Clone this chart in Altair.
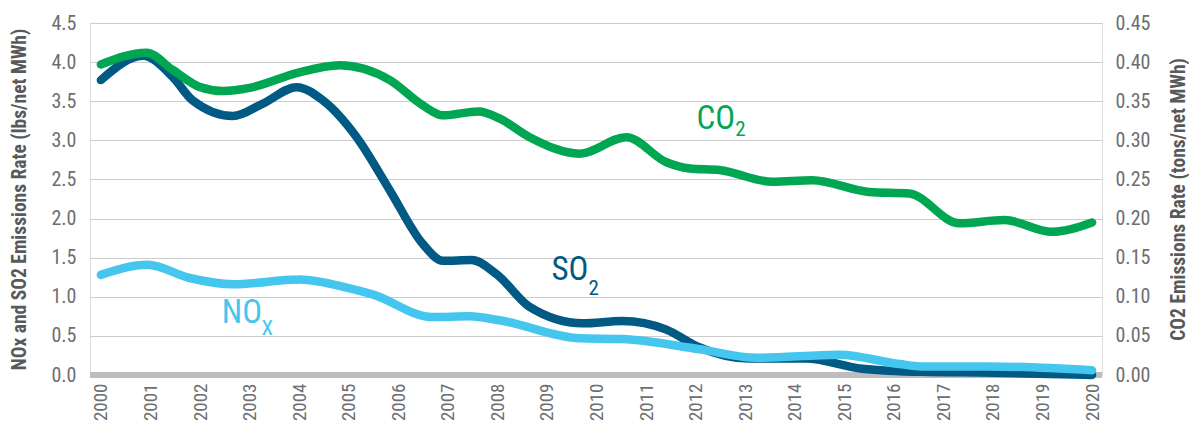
import altair as alt
import pandas as pd

# ---- data ----
co2_year = [2000.0, 2000.92, 2001.45, 2002.0, 2002.46, 2003.0, 2003.95, 2004.82,
            2005.83, 2006.49, 2006.9, 2007.62, 2008.04, 2008.65, 2009.66, 2010.6,
            2011.41, 2011.88, 2012.48, 2013.55, 2014.35, 2015.5, 2016.31, 2017.32,
            2018.23, 2019.19, 2020.0]
co2_val = [0.397, 0.412, 0.390, 0.368, 0.363, 0.367, 0.386, 0.396,
           0.377, 0.345, 0.332, 0.337, 0.328, 0.304, 0.283, 0.304,
           0.272, 0.264, 0.262, 0.247, 0.249, 0.234, 0.232, 0.194,
           0.198, 0.183, 0.195]

so2_year = [2000.0, 2000.85, 2001.45, 2001.85, 2002.66, 2003.27, 2003.95, 2004.48,
            2005.16, 2005.83, 2006.49, 2006.9, 2007.48, 2008.0, 2008.65, 2009.72,
            2010.52, 2011.41, 2012.02, 2013.08, 2014.23, 2015.36, 2016.57, 2018.0,
            2020.0]
so2_val = [3.77, 4.08, 3.81, 3.51, 3.31, 3.47, 3.68, 3.51,
           3.04, 2.36, 1.68, 1.46, 1.47, 1.28, 0.87, 0.66,
           0.69, 0.58, 0.37, 0.21, 0.21, 0.08, 0.04, 0.03,
           0.0]

nox_year = [2000.0, 2000.94, 2001.79, 2002.66, 2004.01, 2005.0, 2005.48, 2006.69,
            2007.44, 2008.04, 2009.66, 2010.52, 2012.08, 2013.23, 2014.9, 2016.11,
            2016.57, 2017.92, 2020.0]
nox_val = [1.28, 1.41, 1.24, 1.16, 1.22, 1.11, 1.03, 0.74,
           0.75, 0.70, 0.47, 0.46, 0.33, 0.22, 0.26, 0.14,
           0.11, 0.11, 0.06]

year_ticks = list(range(2000, 2021))
left_ticks = [0.0, 0.5, 1.0, 1.5, 2.0, 2.5, 3.0, 3.5, 4.0, 4.5]
right_ticks = [0.0, 0.05, 0.10, 0.15, 0.20, 0.25, 0.30, 0.35, 0.40, 0.45]

label_main = ["CO", "SO", "NO"]
label_sub = ["2", "2", "X"]
label_main_x = [2012.02, 2009.09, 2002.44]
label_main_y = [3.15, 1.21, 0.66]
label_sub_x = [2012.80, 2009.84, 2003.24]
label_sub_y = [3.06, 1.02, 0.51]
label_color = ["#00A651", "#005A84", "#45C6EE"]

GREEN = "#00A651"
DARK = "#005A84"
LIGHT = "#45C6EE"
FONT = "Roboto Condensed, Liberation Sans Narrow, DejaVu Sans Condensed, Roboto, sans-serif"

co2_df = pd.DataFrame({"year": co2_year, "val": co2_val})
so2_df = pd.DataFrame({"year": so2_year, "val": so2_val})
nox_df = pd.DataFrame({"year": nox_year, "val": nox_val})
lab_df = pd.DataFrame({"txt": label_main, "x": label_main_x, "y": label_main_y, "c": label_color})
sub_df = pd.DataFrame({"txt": label_sub, "x": label_sub_x, "y": label_sub_y, "c": label_color})

xscale = alt.Scale(domain=[1999.78, 2020.2], nice=False, zero=False)
xaxis = alt.Axis(values=year_ticks, format="d", labelAngle=270, grid=False, ticks=False,
                 domain=False, labelPadding=8, title=None, labelFontSize=19,
                 labelColor="#6d6e71", labelFont=FONT)
lscale = alt.Scale(domain=[0, 4.5], nice=False)
laxis = alt.Axis(values=left_ticks, format=".1f", grid=True, gridColor="#cccccc",
                 gridWidth=1.2, ticks=False, domain=False, labelPadding=14,
                 labelFontSize=20, labelColor="#6d6e71", labelFont=FONT,
                 title="NOx and SO2 Emissions Rate (lbs/net MWh)",
                 titleFontSize=19.5, titleFontWeight="bold", titleColor="#58595b",
                 titleFont=FONT, titleAngle=270, titleX=-71, titleY=176,
                 titleAlign="center", titleBaseline="middle")
rscale = alt.Scale(domain=[0, 0.45], nice=False)
raxis = alt.Axis(values=right_ticks, format=".2f", grid=False, ticks=False, domain=False,
                 orient="right", labelPadding=13, labelFontSize=20, labelColor="#6d6e71",
                 labelFont=FONT, title="CO2 Emissions Rate (tons/net MWh)",
                 titleFontSize=19.5, titleFontWeight="bold", titleColor="#58595b",
                 titleFont=FONT, titleAngle=270, titleX=76, titleY=176,
                 titleAlign="center", titleBaseline="middle")

base_rule = alt.Chart(pd.DataFrame({"v": [0.0]})).mark_rule(
    color="#bcbec0", strokeWidth=6
).encode(
    y=alt.Y("v:Q", scale=lscale, axis=laxis),
    x=alt.value(0), x2=alt.value(1012),
)

def line(df, color, scale, axis):
    return alt.Chart(df).mark_line(
        interpolate="monotone", strokeWidth=8.5, color=color,
        strokeCap="round", strokeJoin="round"
    ).encode(
        x=alt.X("year:Q", scale=xscale, axis=xaxis),
        y=alt.Y("val:Q", scale=scale, axis=axis),
    )

so2_line = line(so2_df, DARK, lscale, laxis)
nox_line = line(nox_df, LIGHT, lscale, laxis)

main_txt = alt.Chart(lab_df).mark_text(
    align="left", baseline="alphabetic", fontSize=33, font=FONT
).encode(
    x=alt.X("x:Q", scale=xscale, axis=xaxis),
    y=alt.Y("y:Q", scale=lscale, axis=laxis),
    text="txt:N",
    color=alt.Color("c:N", scale=None),
)
sub_txt = alt.Chart(sub_df).mark_text(
    align="left", baseline="alphabetic", fontSize=21, font=FONT
).encode(
    x=alt.X("x:Q", scale=xscale, axis=xaxis),
    y=alt.Y("y:Q", scale=lscale, axis=laxis),
    text="txt:N",
    color=alt.Color("c:N", scale=None),
)

left = alt.layer(base_rule, so2_line, nox_line, main_txt, sub_txt)
right = line(co2_df, GREEN, rscale, raxis)

chart = alt.layer(left, right).resolve_scale(y="independent").properties(
    width=1012, height=352,
    autosize=alt.AutoSizeParams(type="none"),
    padding={"left": 82, "top": 15, "right": 87, "bottom": 55},
).configure_view(stroke=None).configure(background="white")

chart.save("out.html", embed_options={"renderer": "svg", "actions": False})
